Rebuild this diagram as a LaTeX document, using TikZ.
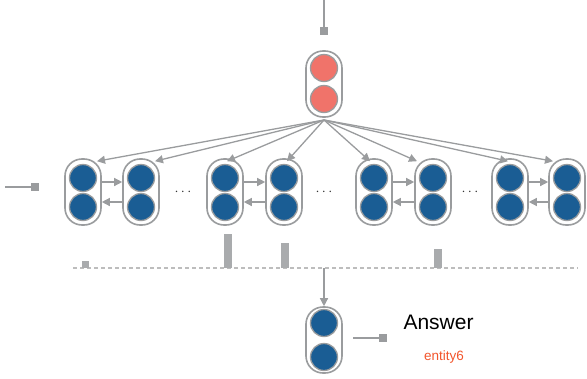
\documentclass[tikz,border=0pt]{standalone}
\usepackage{fontspec}
\setmainfont{Liberation Sans}
\usetikzlibrary{arrows.meta,positioning}
\definecolor{lgray}{HTML}{9A9C9E}
\definecolor{dgray}{HTML}{8E9092}
\definecolor{bluec}{HTML}{1A5D94}
\definecolor{redc}{HTML}{F0736A}
\definecolor{orangec}{HTML}{F2552C}
\definecolor{dashc}{HTML}{BDBDBD}
\tikzset{
  capsule/.style={draw=lgray, line width=1.6pt, fill=white, rounded corners=17pt, minimum width=36pt, minimum height=66pt, inner sep=0pt},
  ball/.style={circle, draw=lgray, line width=1.3pt, minimum size=27pt, inner sep=0pt},
  conn/.style={draw=lgray, line width=1.3pt},
  arr/.style={conn, -{Triangle[width=8pt,length=8pt]}},
  term/.style={fill=lgray, minimum size=8pt, inner sep=0pt},
  bar/.style={fill=lgray!85, draw=none},
  dots/.style={font=\Large, text=black!80},
}
\begin{document}
\begin{tikzpicture}[x=1pt,y=-1pt]
\useasboundingbox (0,0) rectangle (587,378);
% top capsule
\node[capsule] (top) at (324,84) {};
\node[ball, fill=redc] (t1) at (324,68) {};
\node[ball, fill=redc] (t2) at (324,99) {};
\coordinate (tin) at (324,0);
\node[term] (tsq) at (324,31) {};
\draw[conn] (tin) -- (tsq);
\coordinate (src) at (324,120);
% row of capsules
\foreach \n/\x in {c1/83,c2/141,c3/225,c4/284,c5/374,c6/433,c7/510,c8/567}{
  \node[capsule] (\n) at (\x,192) {};
  \node[ball, fill=bluec] (\n a) at (\x,178) {};
  \node[ball, fill=bluec] (\n b) at (\x,207) {};
}
% fan arrows
\foreach \n/\s in {c1/14,c2/14,c3/2,c4/3,c5/-4,c6/-16,c7/-2,c8/-14}{
  \draw[arr] (src) -- ([xshift=\s pt,yshift=-3pt]\n.north);
}
% pair arrows
\foreach \a/\b in {c1/c2,c3/c4,c5/c6,c7/c8}{
  \draw[arr] ([yshift=10pt]\a.east) -- ([yshift=10pt]\b.west);
  \draw[arr] ([yshift=-10pt]\b.west) -- ([yshift=-10pt]\a.east);
}
% dots
\node[dots] (d1) at (183,192) {$\cdots$};
\node[dots] (d2) at (324,192) {$\cdots$};
\node[dots] (d3) at (470,192) {$\cdots$};
% left input
\coordinate (lin) at (5,187);
\node[term] (lsq) at (35,187) {};
\draw[conn] (lin) -- (lsq);
% dashed line and bars
\coordinate (dl) at (73,268);
\coordinate (dr) at (578,268);
\draw[dashc, line width=1.3pt, dash pattern=on 4pt off 3pt] (dl) -- (dr);
\fill[bar] (82,261) rectangle (89,268);
\fill[bar] (224,234) rectangle (232,268);
\fill[bar] (281,243) rectangle (289,268);
\fill[bar] (434,249) rectangle (442,268);
% answer capsule
\coordinate (mid) at (324,268);
\node[capsule] (ans) at (324,340) {};
\node[ball, fill=bluec] (a1) at (324,323) {};
\node[ball, fill=bluec] (a2) at (324,357) {};
\draw[arr] (mid) -- (ans.north);
\node[term] (osq) at (383,338) {};
\coordinate (ostart) at (353,338);
\draw[conn] (ostart) -- (osq);
\node[font=\fontsize{21}{24}\selectfont, anchor=west] (atext) at (400,322) {Answer};
\node[font=\fontsize{13.5}{16}\selectfont, text=orangec] (etext) at (444,357) {entity6};
\end{tikzpicture}
\end{document}
